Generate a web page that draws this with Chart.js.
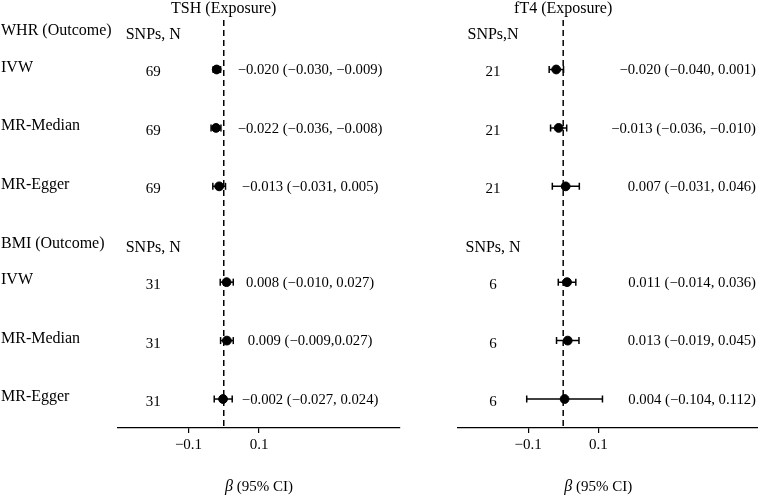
<!DOCTYPE html>
<html>
<head>
<meta charset="utf-8">
<script src="https://cdn.jsdelivr.net/npm/chart.js@4"></script>
<style>
  body { margin: 0; background: #fff; overflow: hidden; }
  #left { position: absolute; left: 0; top: 0; }
  #right { position: absolute; left: 440px; top: 0; }
</style>
</head>
<body>
<canvas id="left" width="440" height="498"></canvas>
<canvas id="right" width="324" height="498"></canvas>
<script>
var outcomes = ["WHR (Outcome)", "BMI (Outcome)"];
var methods = ["IVW", "MR-Median", "MR-Egger"];
var tickValues = [-0.1, 0.1];
var tickLabels = ["\u22120.1", "0.1"];

var tshBeta = [-0.020, -0.022, -0.013, 0.008, 0.009, -0.002];
var tshLow = [-0.030, -0.036, -0.031, -0.010, -0.009, -0.027];
var tshHigh = [-0.009, -0.008, 0.005, 0.027, 0.027, 0.024];
var tshSnps = [69, 69, 69, 31, 31, 31];
var tshText = ["\u22120.020 (\u22120.030, \u22120.009)", "\u22120.022 (\u22120.036, \u22120.008)", "\u22120.013 (\u22120.031, 0.005)",
  "0.008 (\u22120.010, 0.027)", "0.009 (\u22120.009,0.027)", "\u22120.002 (\u22120.027, 0.024)"];
var tshHeads = ["SNPs, N", "SNPs, N"];

var ft4Beta = [-0.020, -0.013, 0.007, 0.011, 0.013, 0.004];
var ft4Low = [-0.040, -0.036, -0.031, -0.014, -0.019, -0.104];
var ft4High = [0.001, 0.010, 0.046, 0.036, 0.045, 0.112];
var ft4Snps = [21, 21, 21, 6, 6, 6];
var ft4Text = ["\u22120.020 (\u22120.040, 0.001)", "\u22120.013 (\u22120.036, \u22120.010)", "0.007 (\u22120.031, 0.046)",
  "0.011 (\u22120.014, 0.036)", "0.013 (\u22120.019, 0.045)", "0.004 (\u22120.104, 0.112)"];
var ft4Heads = ["SNPs,N", "SNPs, N"];

var FONT = "'Liberation Serif', 'DejaVu Serif', serif";
var groupGap = 3.64;
function rowY(i) { return 1 + Math.floor(i / 3) * groupGap + (i % 3); }
function headY(g) { return 0.38 + g * groupGap; }

function makeChart(id, cfg) {
  var rows = cfg.beta.map(function (b, i) { return { x: b, y: rowY(i) }; });
  var datasets = [{
    type: "line",
    data: [{ x: 0, y: 0.153 }, { x: 0, y: 7.136 }],
    borderColor: "#000", borderWidth: 1.5, borderDash: [6, 4],
    pointRadius: 0, fill: false
  }];
  cfg.beta.forEach(function (b, i) {
    datasets.push({
      type: "line",
      data: [{ x: cfg.low[i], y: rowY(i) }, { x: cfg.high[i], y: rowY(i) }],
      borderColor: "#000", borderWidth: 1.5,
      pointStyle: "line", rotation: 90, pointRadius: 3.5,
      pointBorderColor: "#000", pointBorderWidth: 1.5, fill: false
    });
  });
  datasets.push({
    type: "scatter", data: rows,
    pointRadius: 4.4, pointBackgroundColor: "#000", pointBorderColor: "#000"
  });

  var textPlugin = {
    id: "forestText",
    afterDraw: function (chart) {
      var ctx = chart.ctx, xs = chart.scales.x, ys = chart.scales.y;
      ctx.save();
      ctx.fillStyle = "#000";
      ctx.textBaseline = "middle";
      ctx.font = "16px " + FONT;
      ctx.textAlign = "center";
      ctx.fillText(cfg.title, xs.getPixelForValue(0), 9);
      for (var g = 0; g < 2; g++) {
        var hy = ys.getPixelForValue(headY(g));
        ctx.font = "16px " + FONT;
        if (cfg.showLabels) {
          ctx.textAlign = "left";
          ctx.fillText(outcomes[g], 1, hy - 2);
        }
        ctx.textAlign = "center";
        ctx.fillText(cfg.heads[g], xs.getPixelForValue(-0.2), hy + 2);
      }
      cfg.beta.forEach(function (b, i) {
        var y = ys.getPixelForValue(rowY(i));
        ctx.font = "16px " + FONT;
        if (cfg.showLabels) {
          ctx.textAlign = "left";
          ctx.fillText(methods[i % 3], 1, y - 2);
        }
        ctx.font = "15px " + FONT;
        ctx.textAlign = "center";
        ctx.fillText(String(cfg.snps[i]), xs.getPixelForValue(-0.2), y + 3);
        ctx.font = "14.7px " + FONT;
        if (cfg.textRight) {
          ctx.textAlign = "right";
          ctx.fillText(cfg.text[i], 316, y + 1);
        } else {
          ctx.textAlign = "center";
          ctx.fillText(cfg.text[i], xs.getPixelForValue(0.245), y + 1);
        }
      });
      // axis title with italic beta
      var cx = xs.getPixelForValue(0.1), ty = 487;
      ctx.font = "italic 16px " + FONT;
      var wb = ctx.measureText("\u03b2").width;
      ctx.font = "15px " + FONT;
      var rest = " (95% CI)";
      var wr = ctx.measureText(rest).width;
      var x0 = cx - (wb + wr) / 2;
      ctx.textAlign = "left";
      ctx.font = "italic 16px " + FONT;
      ctx.fillText("\u03b2", x0, ty);
      ctx.font = "15px " + FONT;
      ctx.fillText(rest, x0 + wb, ty);
      ctx.restore();
    }
  };

  return new Chart(document.getElementById(id), {
    data: { datasets: datasets },
    plugins: [textPlugin],
    options: {
      responsive: false,
      animation: false,
      devicePixelRatio: 1,
      layout: { padding: { left: cfg.padLeft, right: cfg.padRight, top: 20, bottom: 41 } },
      plugins: { legend: { display: false }, tooltip: { enabled: false } },
      scales: {
        x: {
          type: "linear", min: -0.3, max: cfg.xMax,
          afterBuildTicks: function (s) { s.ticks = tickValues.map(function (v) { return { value: v }; }); },
          ticks: {
            color: "#000", padding: 3, font: { family: FONT, size: 15 },
            callback: function (v) { return tickLabels[tickValues.indexOf(v)]; }
          },
          grid: { drawOnChartArea: false, drawTicks: true, tickLength: 5, color: "#000", lineWidth: 1.2 },
          border: { display: true, color: "#000", width: 1.2 }
        },
        y: { type: "linear", reverse: true, min: 0.153, max: 7.136, display: false }
      }
    }
  });
}

makeChart("left", {
  title: "TSH (Exposure)", beta: tshBeta, low: tshLow, high: tshHigh, snps: tshSnps,
  text: tshText, heads: tshHeads, showLabels: true, textRight: false,
  padLeft: 118, padRight: 40, xMax: 0.5
});
makeChart("right", {
  title: "fT4 (Exposure)", beta: ft4Beta, low: ft4Low, high: ft4High, snps: ft4Snps,
  text: ft4Text, heads: ft4Heads, showLabels: false, textRight: true,
  padLeft: 18, padRight: 0, xMax: 0.557
});
</script>
</body>
</html>
